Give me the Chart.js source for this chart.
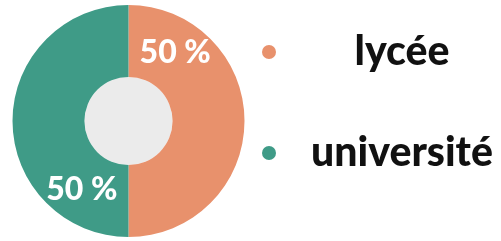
<!DOCTYPE html>
<html>
<head>
<meta charset="utf-8">
<script src="https://cdn.jsdelivr.net/npm/chart.js@4"></script>
<style>
  html, body { margin: 0; padding: 0; background: #fff; }
  #wrap { width: 501px; height: 241px; position: relative; }
</style>
</head>
<body>
<div id="wrap"><canvas id="donut"></canvas></div>
<script>
// data
const labels = ['lycée', 'université'];
const values = [50, 50];
const colors = ['#E8916C', '#3F9B87'];
const holeColor = '#EBEBEB';

// white % labels near the start of each slice + legend on the right
const sliceLabels = {
    id: 'sliceLabels',
    beforeDatasetsDraw(chart) {
        const arc = chart.getDatasetMeta(0).data[0];
        const ctx = chart.ctx;
        ctx.save();
        ctx.fillStyle = holeColor;
        ctx.beginPath();
        ctx.arc(arc.x, arc.y, arc.innerRadius, 0, Math.PI * 2);
        ctx.fill();
        ctx.restore();
    },
    afterDatasetsDraw(chart) {
        const ctx = chart.ctx;
        const meta = chart.getDatasetMeta(0);
        const total = values.reduce((a, b) => a + b, 0);
        ctx.save();
        ctx.font = '900 32px Lato';
        ctx.fillStyle = '#fff';
        ctx.textAlign = 'center';
        ctx.textBaseline = 'middle';
        meta.data.forEach((arc, i) => {
            const a = arc.startAngle + (arc.endAngle - arc.startAngle) * 0.19;
            const r = (arc.innerRadius + arc.outerRadius) / 2 + 3;
            const pct = Math.round(values[i] / total * 100) + ' %';
            ctx.fillText(pct, arc.x + Math.cos(a) * r, arc.y + Math.sin(a) * r);
        });

        // legend
        const legendY = [52, 153];
        ctx.font = '900 41px Lato';
        labels.forEach((lab, i) => {
            ctx.beginPath();
            ctx.fillStyle = colors[i];
            ctx.arc(269, legendY[i], 7, 0, Math.PI * 2);
            ctx.fill();
            ctx.fillStyle = '#111';
            ctx.fillText(lab, 402, legendY[i]);
        });
        ctx.restore();
    }
};

new Chart(document.getElementById('donut'), {
    type: 'doughnut',
    data: {
        labels: labels,
        datasets: [{
            data: values,
            backgroundColor: colors,
            borderWidth: 0
        }]
    },
    options: {
        responsive: true,
        maintainAspectRatio: false,
        animation: false,
        cutout: '38%',
        layout: {
            padding: { left: 12, right: 256, top: 5, bottom: 4 }
        },
        plugins: {
            legend: { display: false },
            tooltip: { enabled: false }
        }
    },
    plugins: [sliceLabels]
});
</script>
</body>
</html>
